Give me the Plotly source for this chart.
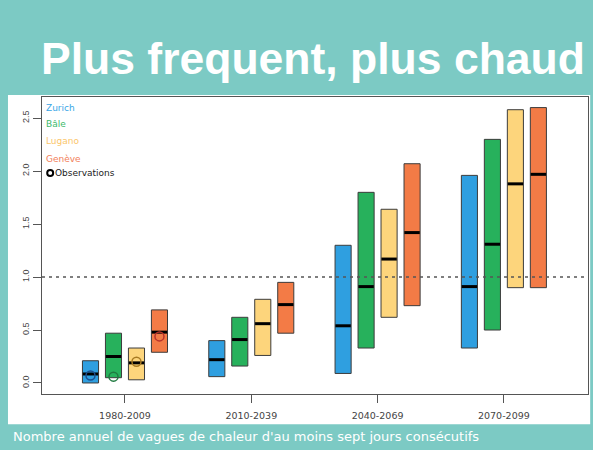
import plotly.graph_objects as go

# ---- data ----
periods = ["1980-2009", "2010-2039", "2040-2069", "2070-2099"]
cities = ["Zurich", "Bâle", "Lugano", "Genève"]

zurich_low = [0.00, 0.06, 0.09, 0.33]
zurich_med = [0.085, 0.22, 0.54, 0.91]
zurich_high = [0.21, 0.40, 1.30, 1.96]

bale_low = [0.05, 0.16, 0.33, 0.50]
bale_med = [0.25, 0.41, 0.91, 1.31]
bale_high = [0.47, 0.62, 1.80, 2.30]

lugano_low = [0.03, 0.26, 0.62, 0.90]
lugano_med = [0.19, 0.56, 1.17, 1.88]
lugano_high = [0.33, 0.79, 1.64, 2.58]

geneve_low = [0.29, 0.47, 0.73, 0.90]
geneve_med = [0.48, 0.74, 1.42, 1.97]
geneve_high = [0.69, 0.95, 2.07, 2.60]

obs_period = ["1980-2009"]
obs_values = [0.07, 0.06, 0.20, 0.44]  # Zurich, Bâle, Lugano, Genève

y_ticks = [0.0, 0.5, 1.0, 1.5, 2.0, 2.5]
y_tick_labels = ["0.0", "0.5", "1.0", "1.5", "2.0", "2.5"]
reference_level = 1.0

title_text = "Plus frequent, plus chaud"
caption_text = "Nombre annuel de vagues de chaleur d'au moins sept jours consécutifs"

# ---- styles ----
colors = ["#2f9fe0", "#27b15c", "#fdd57c", "#f37b46"]
legend_colors = ["#3aa6e6", "#3cba6a", "#fbc66a", "#f2805a"]
obs_colors = ["#1d4f8f", "#1f7a40", "#a87a22", "#b8322a"]
teal = "#7ccac4"

lows = [zurich_low, bale_low, lugano_low, geneve_low]
meds = [zurich_med, bale_med, lugano_med, geneve_med]
highs = [zurich_high, bale_high, lugano_high, geneve_high]

fig = go.Figure()

for i, city in enumerate(cities):
    fig.add_trace(go.Bar(
        x=periods,
        y=[h - l for h, l in zip(highs[i], lows[i])],
        base=lows[i],
        name=city,
        offsetgroup=city,
        alignmentgroup="a",
        marker=dict(color=colors[i], line=dict(color="#3c3c3c", width=1)),
        showlegend=False,
    ))

for i, city in enumerate(cities):
    fig.add_trace(go.Scatter(
        x=periods,
        y=meds[i],
        mode="markers",
        offsetgroup=city,
        alignmentgroup="a",
        marker=dict(symbol="line-ew", size=11,
                    line=dict(color="black", width=3)),
        showlegend=False,
    ))

for i, city in enumerate(cities):
    fig.add_trace(go.Scatter(
        x=obs_period,
        y=[obs_values[i]],
        mode="markers",
        offsetgroup=city,
        alignmentgroup="a",
        marker=dict(symbol="circle-open", size=9,
                    line=dict(color=obs_colors[i], width=1.5),
                    color=obs_colors[i]),
        showlegend=False,
    ))

# reference dotted line
fig.add_hline(y=reference_level, line=dict(color="#555555", width=1.4, dash="3px,4px"))

# white panel behind chart
fig.add_shape(type="rect", xref="paper", yref="paper",
              x0=-0.0623, x1=1.004, y0=-0.102, y1=1.007,
              fillcolor="white", line=dict(width=0), layer="below")

# title
fig.add_annotation(text="<b>" + title_text + "</b>", xref="paper", yref="paper",
                   x=-0.006, y=1.131, xanchor="left", yanchor="middle",
                   showarrow=False,
                   font=dict(family="Liberation Sans, Arial", size=44.5, color="white"))

# caption
fig.add_annotation(text=caption_text, xref="paper", yref="paper",
                   x=-0.057, y=-0.142, xanchor="left", yanchor="middle",
                   showarrow=False,
                   font=dict(family="DejaVu Sans", size=13, color="white"))

# legend (text annotations)
legend_y = [0.963, 0.909, 0.852, 0.791]
for i, city in enumerate(cities):
    fig.add_annotation(text=city, xref="paper", yref="paper",
                       x=0.003, y=legend_y[i], xanchor="left", yanchor="middle",
                       showarrow=False,
                       font=dict(family="DejaVu Sans", size=9, color=legend_colors[i]))
fig.add_shape(type="circle", xref="paper", yref="paper",
              xsizemode="pixel", ysizemode="pixel",
              xanchor=0.015, yanchor=0.744,
              x0=-3, x1=3, y0=-3, y1=3,
              line=dict(color="black", width=2))
fig.add_annotation(text="Observations", xref="paper", yref="paper",
                   x=0.021, y=0.744, xanchor="left", yanchor="middle",
                   showarrow=False,
                   font=dict(family="DejaVu Sans", size=9, color="#222222"))

fig.update_layout(
    width=593, height=450,
    margin=dict(l=42, r=5, t=97, b=56, autoexpand=False),
    paper_bgcolor=teal,
    plot_bgcolor="white",
    barmode="group",
    bargap=0.272,
    bargroupgap=0.30,
    scattermode="group",
    scattergap=0.272,
    showlegend=False,
    font=dict(family="Liberation Sans, Arial", color="#444444"),
)

fig.update_xaxes(
    type="category",
    range=[-0.657, 3.666],
    automargin=False,
    showline=True, linecolor="#555555", linewidth=1, mirror=True,
    ticks="outside", ticklen=8, tickcolor="#555555",
    ticklabelstandoff=5,
    showgrid=False, zeroline=False,
    tickfont=dict(family="DejaVu Sans", size=9.5, color="#444444"),
)
fig.update_yaxes(
    range=[-0.104, 2.70],
    automargin=False,
    tickvals=y_ticks, ticktext=y_tick_labels,
    tickangle=-90,
    showline=True, linecolor="#555555", linewidth=1, mirror=True,
    ticks="outside", ticklen=8, tickcolor="#555555",
    showgrid=False, zeroline=False,
    tickfont=dict(size=9, color="#444444"),
)

fig.write_html(
    "out.html",
    config={"displayModeBar": False},
    post_script="document.body.style.margin='0';document.body.style.overflow='hidden';",
)
